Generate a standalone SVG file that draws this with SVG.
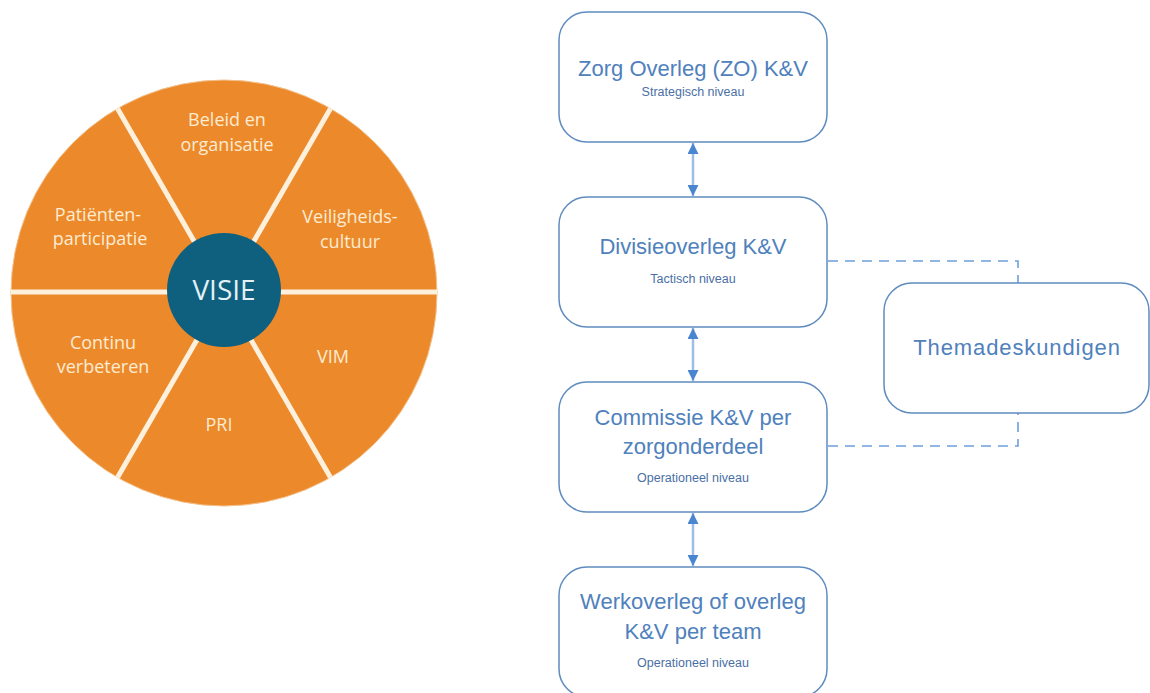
<svg xmlns="http://www.w3.org/2000/svg" width="1150" height="693" viewBox="0 0 1150 693">
  <style>
    .seg-label { font-family: "Open Sans", "Liberation Sans", sans-serif; font-size: 18px; fill: #fdebd2; text-anchor: middle; }
    .hub-label { font-family: "Open Sans", "Liberation Sans", sans-serif; font-size: 28px; fill: #e3f1f6; text-anchor: middle; }
    .box { fill: #ffffff; stroke: #5f8cbf; stroke-width: 1.5; }
    .title { font-family: "Liberation Sans", "Open Sans", sans-serif; font-size: 22px; fill: #4f81bd; text-anchor: middle; }
    .sub { font-family: "Liberation Sans", "Open Sans", sans-serif; font-size: 12.5px; fill: #4a6fa5; text-anchor: middle; }
    .link { stroke: #9dbde6; stroke-width: 2.5; fill: none; }
    .dash { stroke: #6f9fdc; stroke-width: 1.6; fill: none; stroke-dasharray: 10 7; }
    .divider { stroke: #fdf0dc; stroke-width: 5; }
  </style>
  <defs>
    <marker id="head" viewBox="0 0 10 10" refX="10" refY="5" markerWidth="4.4" markerHeight="4.4" orient="auto-start-reverse" markerUnits="strokeWidth">
      <path d="M0,0 L10,5 L0,10 Z" fill="#4a86d0"/>
    </marker>
  </defs>

  <!-- quality wheel -->
  <g id="wheel">
    <circle cx="224" cy="293" r="213" fill="#ec8a2b" stroke="#f4c08a" stroke-width="1"/>
    <line class="divider" x1="11" y1="292" x2="437" y2="292"/>
    <line class="divider" x1="117.5" y1="108.5" x2="330.5" y2="477.5"/>
    <line class="divider" x1="330.5" y1="108.5" x2="117.5" y2="477.5"/>
    <text class="seg-label" x="227" y="126">Beleid en</text>
    <text class="seg-label" x="227" y="151">organisatie</text>
    <text class="seg-label" x="98" y="221">Patiënten-</text>
    <text class="seg-label" x="100" y="245">participatie</text>
    <text class="seg-label" x="350" y="223">Veiligheids-</text>
    <text class="seg-label" x="350" y="248">cultuur</text>
    <text class="seg-label" x="103" y="349">Continu</text>
    <text class="seg-label" x="103" y="373">verbeteren</text>
    <text class="seg-label" x="333" y="363">VIM</text>
    <text class="seg-label" x="219" y="431">PRI</text>
    <circle cx="224" cy="290" r="57" fill="#0f5f7e"/>
    <text class="hub-label" x="224" y="300">VISIE</text>
  </g>

  <!-- connectors -->
  <g id="connectors">
    <line class="link" x1="693" y1="143" x2="693" y2="196" marker-start="url(#head)" marker-end="url(#head)"/>
    <line class="link" x1="693" y1="328" x2="693" y2="381" marker-start="url(#head)" marker-end="url(#head)"/>
    <line class="link" x1="693" y1="513" x2="693" y2="566" marker-start="url(#head)" marker-end="url(#head)"/>
    <path class="dash" d="M828,261 H1018 V283"/>
    <path class="dash" d="M828,446 H1018 V413"/>
  </g>

  <g id="zorg-overleg">
    <rect class="box" x="559" y="12" width="268" height="130" rx="28"/>
    <text class="title" x="693" y="76">Zorg Overleg (ZO) K&amp;V</text>
    <text class="sub" x="693" y="96">Strategisch niveau</text>
  </g>

  <g id="divisieoverleg">
    <rect class="box" x="559" y="197" width="268" height="130" rx="28"/>
    <text class="title" x="693" y="254">Divisieoverleg K&amp;V</text>
    <text class="sub" x="693" y="283">Tactisch niveau</text>
  </g>

  <g id="commissie">
    <rect class="box" x="559" y="382" width="268" height="130" rx="28"/>
    <text class="title" x="693" y="425">Commissie K&amp;V per</text>
    <text class="title" x="693" y="454">zorgonderdeel</text>
    <text class="sub" x="693" y="482">Operationeel niveau</text>
  </g>

  <g id="werkoverleg">
    <rect class="box" x="559" y="567" width="268" height="130" rx="28"/>
    <text class="title" x="693" y="609">Werkoverleg of overleg</text>
    <text class="title" x="693" y="639">K&amp;V per team</text>
    <text class="sub" x="693" y="667">Operationeel niveau</text>
  </g>

  <g id="themadeskundigen">
    <rect class="box" x="884" y="283" width="265" height="130" rx="28"/>
    <text class="title" x="1017" y="355" font-size="20" letter-spacing="0.9">Themadeskundigen</text>
  </g>
</svg>
